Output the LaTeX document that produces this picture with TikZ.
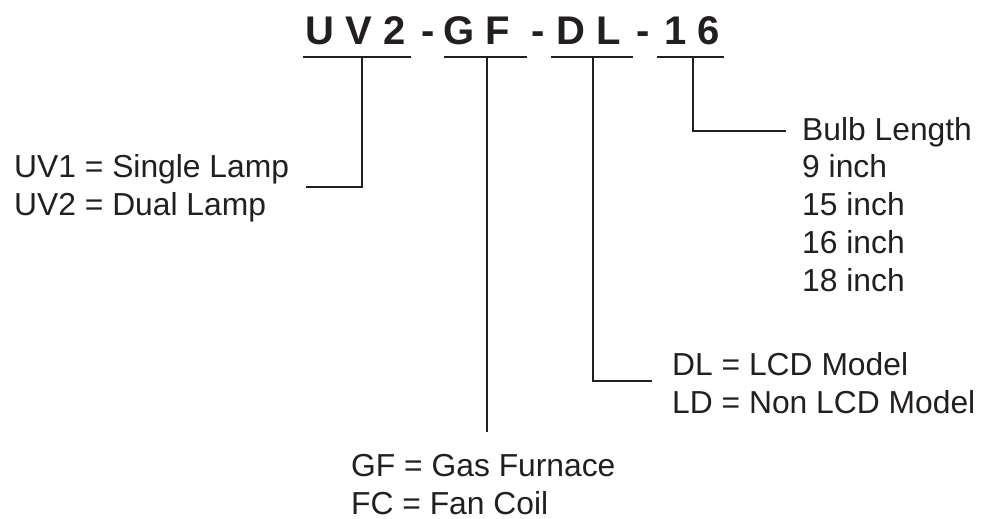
\documentclass[tikz,border=0pt]{standalone}
\usepackage{fontspec}
\setmainfont{Liberation Sans}
\usetikzlibrary{positioning}
\definecolor{ink}{HTML}{231F20}
\tikzset{%
  x=1pt, y=-1pt,
  code/.style={            % letters of the model number
    font=\fontsize{40}{40}\selectfont\bfseries,
    text=ink, inner sep=0pt, anchor=base},
  note/.style={            % explanation beside a leader
    font=\fontsize{31.8}{37.7}\selectfont,
    text=ink, inner sep=0pt, align=left, anchor=base west},
  lead/.style={            % underlines and leaders
    draw=ink, line width=2pt}
}

\begin{document}
\begin{tikzpicture}
    \useasboundingbox (0,0) rectangle (983,519);

    % model number
    \node[code] (cUV)  at (356,45) {U V 2};
    \node[code] (dA)   at (428,45) {-};
    \node[code] (cGF)  at (477,45) {G F};
    \node[code] (dB)   at (538,45) {-};
    \node[code] (cDL)  at (589,45) {D L};
    \node[code] (dC)   at (643,45) {-};
    \node[code] (cLen) at (692,45) {1 6};

    % underlines
    \draw[lead] (303,57) -- (411,57);
    \draw[lead] (444,57) -- (527,57);
    \draw[lead] (551,57) -- (633,57);
    \draw[lead] (657,57) -- (724,57);

    % explanations (placed at the baseline of their last line)
    \node[note] (nUV)  at (14,215)  {UV1 = Single Lamp\\UV2 = Dual Lamp};
    \node[note] (nGF)  at (351,514) {GF = Gas Furnace\\FC = Fan Coil};
    \node[note] (nDL)  at (672,413) {DL = LCD Model\\LD = Non LCD Model};
    \node[note] (nLen) at (802,291) {Bulb Length\\9 inch\\15 inch\\16 inch\\18 inch};

    % leader ends
    \coordinate (sUV)  at (362,57);
    \coordinate (sGF)  at (487,57);
    \coordinate (sDL)  at (593,57);
    \coordinate (sLen) at (693,57);
    \coordinate (eUV)  at (306,187);
    \coordinate (eGF)  at (487,432);
    \coordinate (eDL)  at (652,381);
    \coordinate (eLen) at (786,131);

    \draw[lead] (sUV) |- (eUV);
    \draw[lead] (sGF) -- (eGF);
    \draw[lead] (sDL) |- (eDL);
    \draw[lead] (sLen) |- (eLen);

\end{tikzpicture}
\end{document}
